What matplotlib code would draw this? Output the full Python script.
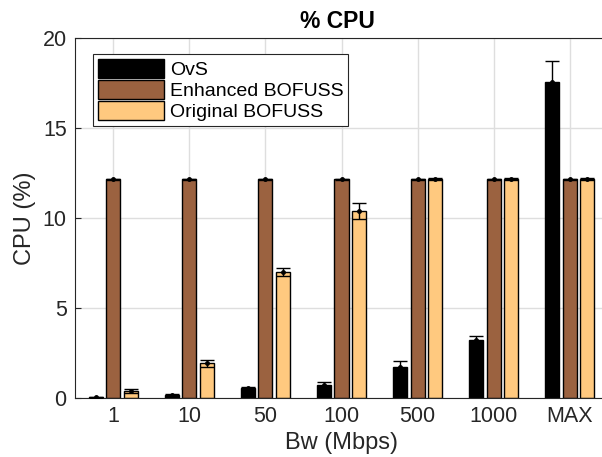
import numpy as np
import matplotlib
matplotlib.use('Agg')
import matplotlib.pyplot as plt

plt.rcParams['font.family'] = ['Liberation Sans', 'DejaVu Sans']

bw_labels = ['1', '10', '50', '100', '500', '1000', 'MAX']
ovs = [0.05, 0.15, 0.55, 0.72, 1.75, 3.22, 17.55]
ovs_err = [0.03, 0.05, 0.08, 0.15, 0.3, 0.24, 1.15]
enhanced = [12.15, 12.15, 12.15, 12.15, 12.15, 12.15, 12.15]
enhanced_err = [0.04, 0.04, 0.04, 0.04, 0.04, 0.04, 0.04]
original = [0.4, 1.93, 6.98, 10.4, 12.15, 12.15, 12.15]
original_err = [0.1, 0.18, 0.22, 0.45, 0.06, 0.06, 0.06]
series_names = ['OvS', 'Enhanced BOFUSS', 'Original BOFUSS']

colors = ['#000000', '#9B6240', '#FFC97F']

fig = plt.figure(figsize=(6.02, 4.57), dpi=100)
ax = fig.add_axes([75/602, 59/457, 533/602, 360/457])

x = np.arange(1, len(bw_labels)+1)
offs = [-0.23, 0.0, 0.23]
w = 0.185
data = [(ovs, ovs_err), (enhanced, enhanced_err), (original, original_err)]
for i, (vals, errs) in enumerate(data):
    ax.bar(x+offs[i], vals, w, color=colors[i], edgecolor='black', linewidth=1.0,
           label=series_names[i], zorder=2)
    ax.errorbar(x+offs[i], vals, yerr=errs, fmt='.', color='black', ecolor='black',
                elinewidth=1.0, capsize=5, capthick=1.0, markersize=5, zorder=3)

ax.set_xlim(0.5, 7.5)
ax.set_ylim(0, 20)
ax.set_xticks(x)
ax.set_xticklabels(bw_labels)
ax.set_yticks([0, 5, 10, 15, 20])
ax.tick_params(direction='in', labelsize=15.5, length=4, pad=6,
               color='#262626', labelcolor='#262626')
ax.grid(True, color='#dedede', linewidth=1.0)
ax.set_axisbelow(True)
for s in ax.spines.values():
    s.set_color('#262626')
    s.set_linewidth(0.8)

ax.set_xlabel('Bw (Mbps)', fontsize=17, color='#262626', labelpad=3)
ax.set_ylabel('CPU (%)', fontsize=17, color='#262626', labelpad=5)
ax.set_title('% CPU', fontsize=16.5, fontweight='bold', pad=7, x=0.493)

leg = ax.legend(loc='upper left', bbox_to_anchor=(0.034, 0.955), fontsize=14,
                handlelength=3.4, handleheight=1.1, handletextpad=0.3,
                labelspacing=0.05, borderpad=0.25, borderaxespad=0,
                fancybox=False, framealpha=1, edgecolor='#262626')
leg.get_frame().set_linewidth(0.8)

plt.savefig('out.png', dpi=100)
